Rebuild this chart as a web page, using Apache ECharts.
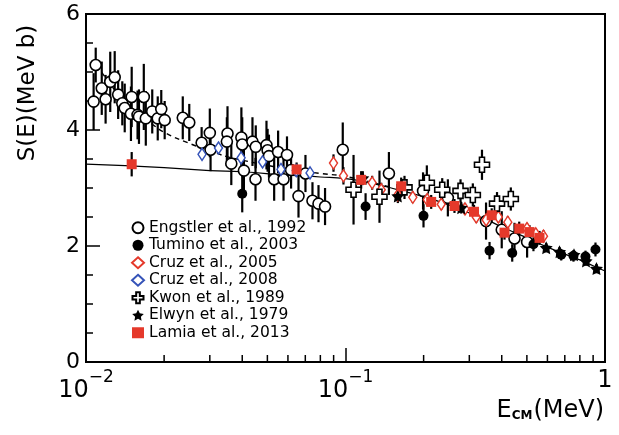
<!DOCTYPE html>
<html>
<head>
<meta charset="utf-8">
<script src="https://cdn.jsdelivr.net/npm/echarts@6/dist/echarts.min.js"></script>
<style>
  html, body { margin: 0; padding: 0; background: #fff; }
  #chart { width: 619px; height: 435px; }
</style>
</head>
<body>
<div id="chart"></div>
<script>
// Astrophysical S-factor data sets: [E_cm (MeV), S (MeV b), error]
const engstler1992 = [
  [0.0107, 4.49, 0.49], [0.0109, 5.12, 0.30], [0.0115, 4.72, 0.46], [0.0119, 4.53, 0.42],
  [0.0124, 4.83, 0.52], [0.0129, 4.91, 0.45], [0.0133, 4.61, 0.42], [0.0138, 4.46, 0.38],
  [0.0141, 4.38, 0.42], [0.0150, 4.57, 0.52], [0.0149, 4.28, 0.47], [0.0158, 4.26, 0.42],
  [0.0160, 4.23, 0.47], [0.0167, 4.57, 0.57], [0.0170, 4.20, 0.47], [0.0180, 4.32, 0.38],
  [0.0189, 4.20, 0.38], [0.0195, 4.36, 0.33], [0.0201, 4.17, 0.33], [0.0236, 4.21, 0.37],
  [0.0250, 4.13, 0.32], [0.0279, 3.78, 0.27], [0.0300, 3.95, 0.42], [0.0302, 3.66, 0.37],
  [0.0351, 3.94, 0.47], [0.0349, 3.80, 0.42], [0.0363, 3.42, 0.37], [0.0397, 3.87, 0.52],
  [0.0400, 3.75, 0.47], [0.0406, 3.30, 0.42], [0.0438, 3.80, 0.42], [0.0451, 3.71, 0.37],
  [0.0450, 3.15, 0.37], [0.0496, 3.74, 0.42], [0.0501, 3.65, 0.37], [0.0507, 3.55, 0.37],
  [0.0531, 3.15, 0.37], [0.0550, 3.62, 0.37], [0.0577, 3.15, 0.37], [0.0595, 3.57, 0.32],
  [0.0617, 3.31, 0.32], [0.0659, 2.86, 0.37], [0.0701, 3.25, 0.32], [0.0746, 2.78, 0.32],
  [0.0787, 2.73, 0.32], [0.0834, 2.68, 0.32], [0.0976, 3.66, 0.47], [0.147, 3.25, 0.37],
  [0.199, 2.95, 0.32], [0.248, 2.83, 0.32], [0.348, 2.43, 0.32], [0.400, 2.28, 0.32],
  [0.448, 2.13, 0.27], [0.501, 2.07, 0.27]
];
const tumino2003 = [
  [0.0400, 2.90, 0.32], [0.1195, 2.68, 0.23], [0.1998, 2.52, 0.20], [0.359, 1.92, 0.15],
  [0.439, 1.88, 0.15], [0.530, 2.03, 0.12], [0.678, 1.85, 0.10], [0.756, 1.83, 0.10],
  [0.841, 1.82, 0.10], [0.919, 1.94, 0.12]
];
const cruz2005 = [
  [0.0899, 3.43, 0.15], [0.0982, 3.21, 0.15], [0.1074, 2.99, 0.12], [0.1267, 3.09, 0.12],
  [0.1373, 2.97, 0.12], [0.1591, 2.88, 0.10], [0.1817, 2.84, 0.10], [0.2065, 2.80, 0.10],
  [0.2338, 2.72, 0.10], [0.2887, 2.64, 0.10], [0.3189, 2.50, 0.10], [0.3484, 2.45, 0.10],
  [0.3881, 2.50, 0.10], [0.4221, 2.41, 0.10], [0.5006, 2.30, 0.10], [0.5412, 2.21, 0.10],
  [0.5794, 2.17, 0.10]
];
const cruz2008 = [
  [0.0280, 3.58, 0.08], [0.0324, 3.69, 0.08], [0.0396, 3.52, 0.08], [0.0479, 3.45, 0.08],
  [0.0564, 3.32, 0.08], [0.0646, 3.30, 0.08], [0.0730, 3.26, 0.08]
];
const kwon1989 = [
  [0.1074, 2.97, 0.60], [0.1352, 2.85, 0.45], [0.1688, 3.01, 0.20], [0.2058, 3.09, 0.30],
  [0.2359, 2.97, 0.20], [0.2775, 2.95, 0.20], [0.3095, 2.88, 0.20], [0.3357, 3.40, 0.26],
  [0.3836, 2.73, 0.20], [0.4336, 2.81, 0.20]
];
const elwyn1979 = [
  [0.1166, 3.17, 0.12], [0.1591, 2.86, 0.12], [0.2792, 2.66, 0.10], [0.5935, 1.97, 0.08],
  [0.6679, 1.90, 0.08], [0.7595, 1.85, 0.08], [0.845, 1.74, 0.08], [0.927, 1.61, 0.08]
];
const lamia2013 = [
  [0.0150, 3.41, 0.21], [0.0648, 3.32, 0.12], [0.1149, 3.14, 0.15], [0.1639, 3.03, 0.15],
  [0.2139, 2.76, 0.12], [0.263, 2.69, 0.12], [0.3128, 2.59, 0.12], [0.3659, 2.53, 0.12],
  [0.410, 2.23, 0.12], [0.4671, 2.30, 0.12], [0.5117, 2.24, 0.12], [0.5594, 2.14, 0.12]
];

// Bare-nucleus S-factor curve (solid) and screened curve (dashed)
const bareCurve = [
  [0.01, 3.41], [0.02, 3.35], [0.03, 3.30], [0.04, 3.28], [0.06, 3.22], [0.08, 3.19],
  [0.1, 3.16], [0.12, 3.10], [0.15, 3.00], [0.2, 2.85], [0.25, 2.71], [0.3, 2.57],
  [0.35, 2.45], [0.4, 2.33], [0.45, 2.23], [0.5, 2.14], [0.6, 1.98], [0.7, 1.86],
  [0.8, 1.76], [0.9, 1.66], [1.0, 1.57]
];
const screenedCurve = [
  [0.011, 5.12], [0.0125, 4.77], [0.014, 4.51], [0.016, 4.27], [0.018, 4.10], [0.02, 3.96],
  [0.025, 3.77], [0.03, 3.64], [0.035, 3.54], [0.04, 3.48], [0.05, 3.39], [0.06, 3.33],
  [0.08, 3.25], [0.1, 3.20], [0.15, 3.01]
];

// Axis ticks
const xMajorTicks = [0.01, 0.1, 1];
const xMajorLabels = ['{b|10}{s|\u22122}', '{b|10}{s|\u22121}', '{one|1}'];
const xMinorTicks = [0.02, 0.03, 0.04, 0.05, 0.06, 0.07, 0.08, 0.09,
                     0.2, 0.3, 0.4, 0.5, 0.6, 0.7, 0.8, 0.9];
const yTicks = [0, 2, 4, 6];

const RED = '#e5392b';
const BLUE = '#3553b8';
const FONT = 'DejaVu Sans';

const starPath = 'path://M0,-10 L2.94,-4.05 L9.51,-3.09 L4.76,1.55 L5.88,8.09 L0,5 L-5.88,8.09 L-4.76,1.55 L-9.51,-3.09 L-2.94,-4.05 Z';
const plusPath = 'path://M-1,-3 L1,-3 L1,-1 L3,-1 L3,1 L1,1 L1,3 L-1,3 L-1,1 L-3,1 L-3,-1 L-1,-1 Z';

function errorBars(rows) {
  return {
    type: 'custom',
    coordinateSystem: 'cartesian2d',
    silent: true,
    z: 1,
    encode: { x: 0, y: 1 },
    data: rows,
    renderItem: function (params, api) {
      const e = api.value(0), s = api.value(1), d = api.value(2);
      const lo = api.coord([e, s - d]);
      const hi = api.coord([e, s + d]);
      return {
        type: 'line',
        shape: { x1: lo[0], y1: lo[1], x2: hi[0], y2: hi[1] },
        style: { stroke: '#000', lineWidth: 2.2 }
      };
    }
  };
}

function points(name, rows, symbol, size, style) {
  return {
    type: 'scatter',
    name: name,
    z: 3,
    data: rows.map(r => [r[0], r[1]]),
    symbol: symbol,
    symbolSize: size,
    itemStyle: Object.assign({ opacity: 1 }, style)
  };
}

const datasets = [
  { name: 'Engstler et al., 1992', rows: engstler1992, symbol: 'circle', size: 11,
    style: { color: '#fff', borderColor: '#000', borderWidth: 1.6 } },
  { name: 'Tumino et al., 2003', rows: tumino2003, symbol: 'circle', size: 10,
    style: { color: '#000' } },
  { name: 'Cruz et al., 2005', rows: cruz2005, symbol: 'diamond', size: [8, 12],
    style: { color: '#fff', borderColor: RED, borderWidth: 1.5 } },
  { name: 'Cruz et al., 2008', rows: cruz2008, symbol: 'diamond', size: [8, 12],
    style: { color: '#fff', borderColor: BLUE, borderWidth: 1.5 } },
  { name: 'Kwon et al., 1989', rows: kwon1989, symbol: plusPath, size: 15,
    style: { color: '#fff', borderColor: '#000', borderWidth: 1.6 } },
  { name: 'Elwyn et al., 1979', rows: elwyn1979, symbol: starPath, size: 13,
    style: { color: '#000' } },
  { name: 'Lamia et al., 2013', rows: lamia2013, symbol: 'rect', size: 10,
    style: { color: RED } }
];

const series = [];
datasets.forEach(d => series.push(errorBars(d.rows)));
series.push({
  type: 'line', data: bareCurve, symbol: 'none', smooth: true, z: 2, silent: true,
  lineStyle: { color: '#000', width: 1.2 }
});
series.push({
  type: 'line', data: screenedCurve, symbol: 'none', smooth: true, z: 2, silent: true,
  lineStyle: { color: '#000', width: 1.4, type: [5, 4] }
});
datasets.forEach(d => series.push(points(d.name, d.rows, d.symbol, d.size, d.style)));

// Minor decade ticks along the bottom of the log axis
series.push({
  type: 'custom',
  coordinateSystem: 'cartesian2d',
  silent: true,
  z: 4,
  encode: { x: 0, y: 1 },
  data: xMinorTicks.map(v => [v, yTicks[0]]),
  renderItem: function (params, api) {
    const p = api.coord([api.value(0), api.value(1)]);
    return {
      type: 'line',
      shape: { x1: p[0], y1: p[1], x2: p[0], y2: p[1] - 7 },
      style: { stroke: '#000', lineWidth: 1.5 }
    };
  }
});

const chart = echarts.init(document.getElementById('chart'), null, { renderer: 'canvas' });
chart.setOption({
  animation: false,
  backgroundColor: '#fff',
  grid: {
    left: 86, right: 14, top: 14, bottom: 73,
    show: true, borderColor: '#000', borderWidth: 2, backgroundColor: 'transparent'
  },
  legend: {
    data: datasets.map(d => d.name),
    orient: 'vertical',
    left: 126,
    top: 214,
    itemWidth: 12,
    itemHeight: 11,
    itemGap: 0,
    selectedMode: false,
    textStyle: { fontFamily: FONT, fontSize: 15.5, color: '#000', lineHeight: 17.5 }
  },
  xAxis: {
    type: 'log',
    logBase: 10,
    min: xMajorTicks[0],
    max: xMajorTicks[xMajorTicks.length - 1],
    axisLine: { lineStyle: { color: '#000', width: 2 } },
    axisTick: { inside: true, length: 14, lineStyle: { color: '#000', width: 1.5 } },
    splitLine: { show: false },
    axisLabel: {
      margin: 7,
      showMinLabel: true,
      showMaxLabel: true,
      formatter: function (v) {
        const k = Math.round(Math.log10(v));
        const i = xMajorTicks.findIndex(t => Math.round(Math.log10(t)) === k);
        return i >= 0 ? xMajorLabels[i] : '';
      },
      rich: {
        b: { fontFamily: FONT, fontSize: 24, color: '#000', lineHeight: 44 },
        s: { fontFamily: FONT, fontSize: 17, color: '#000', lineHeight: 14, verticalAlign: 'top' },
        one: { fontFamily: FONT, fontSize: 24, color: '#000', lineHeight: 30, verticalAlign: 'top' }
      }
    }
  },
  yAxis: {
    type: 'value',
    min: yTicks[0],
    max: yTicks[yTicks.length - 1],
    interval: yTicks[1] - yTicks[0],
    axisLine: { show: true, lineStyle: { color: '#000', width: 2 } },
    axisTick: { show: true, inside: true, length: 14, lineStyle: { color: '#000', width: 1.5 } },
    minorTick: { show: true, splitNumber: 4, length: 7, lineStyle: { color: '#000', width: 1.5 } },
    splitLine: { show: false },
    axisLabel: { fontFamily: FONT, fontSize: 22, color: '#000', margin: 6 }
  },
  graphic: [
    {
      type: 'text',
      x: 28, y: 93,
      rotation: Math.PI / 2,
      style: {
        text: 'S(E)(MeV b)',
        fontFamily: FONT, fontSize: 23, fill: '#000',
        align: 'center', verticalAlign: 'middle'
      }
    },
    {
      type: 'text',
      x: 604, y: 411,
      style: {
        text: '{e|E}{sub|CM}{e|(MeV)}',
        align: 'right', verticalAlign: 'middle',
        rich: {
          e: { fontFamily: FONT, fontSize: 24, fill: '#000', color: '#000' },
          sub: { fontFamily: FONT, fontSize: 12, fontWeight: 'bold', color: '#000', padding: [10, 1, 0, 0] }
        }
      }
    }
  ],
  series: series
});
</script>
</body>
</html>
